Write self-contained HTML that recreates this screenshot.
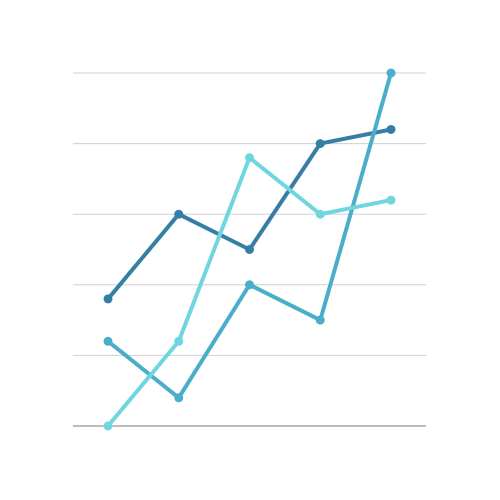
<!DOCTYPE html>
<html><head><meta charset="utf-8"><style>
html,body{margin:0;padding:0;background:#fff;}
svg{display:block;font-family:"Liberation Sans",sans-serif;}
</style></head><body>
<svg id="chart" width="500" height="500"></svg>
<script>
const categories = ["A","B","C","D","E"];
const seriesNames = ["series-dark","series-mid","series-light"];
const darkValues = [1.8, 3.0, 2.5, 4.0, 4.2];
const midValues = [1.2, 0.4, 2.0, 1.5, 5.0];
const lightValues = [0, 1.2, 3.8, 3.0, 3.2];
const gridTicks = [1,2,3,4,5];
const colors = ["#357fa6","#4aaecb","#6fd6df"];

const svg = document.getElementById('chart');
const NS = 'http://www.w3.org/2000/svg';
const x0 = 108, dx = 70.75, yBase = 426, unit = 70.6;
function xScale(i){ return x0 + i*dx; }
function yScale(v){ return yBase - v*unit; }
function mk(tag, attrs){ const e = document.createElementNS(NS, tag); for (const k in attrs) e.setAttribute(k, attrs[k]); svg.appendChild(e); return e; }

gridTicks.forEach(t => {
  const l = mk('line', {x1:73, x2:426, y1:yScale(t), y2:yScale(t), stroke:'#d0d0d0', 'stroke-width':1});
  
  
});
const base = mk('line', {x1:73, x2:426, y1:yBase, y2:yBase, stroke:'#777', 'stroke-width':1});



const allSeries = [darkValues, midValues, lightValues];
allSeries.forEach((vals, s) => {
  const pts = vals.map((v,i) => xScale(i) + ',' + yScale(v)).join(' ');
  const pl = mk('polyline', {points:pts, fill:'none', stroke:colors[s], 'stroke-width':4, 'stroke-linejoin':'round', 'stroke-linecap':'round'});
  
  
  vals.forEach((v,i) => {
    const c = mk('circle', {cx:xScale(i), cy:yScale(v), r:4.5, fill:colors[s]});
    
    
  });
});
</script>
</body></html>
